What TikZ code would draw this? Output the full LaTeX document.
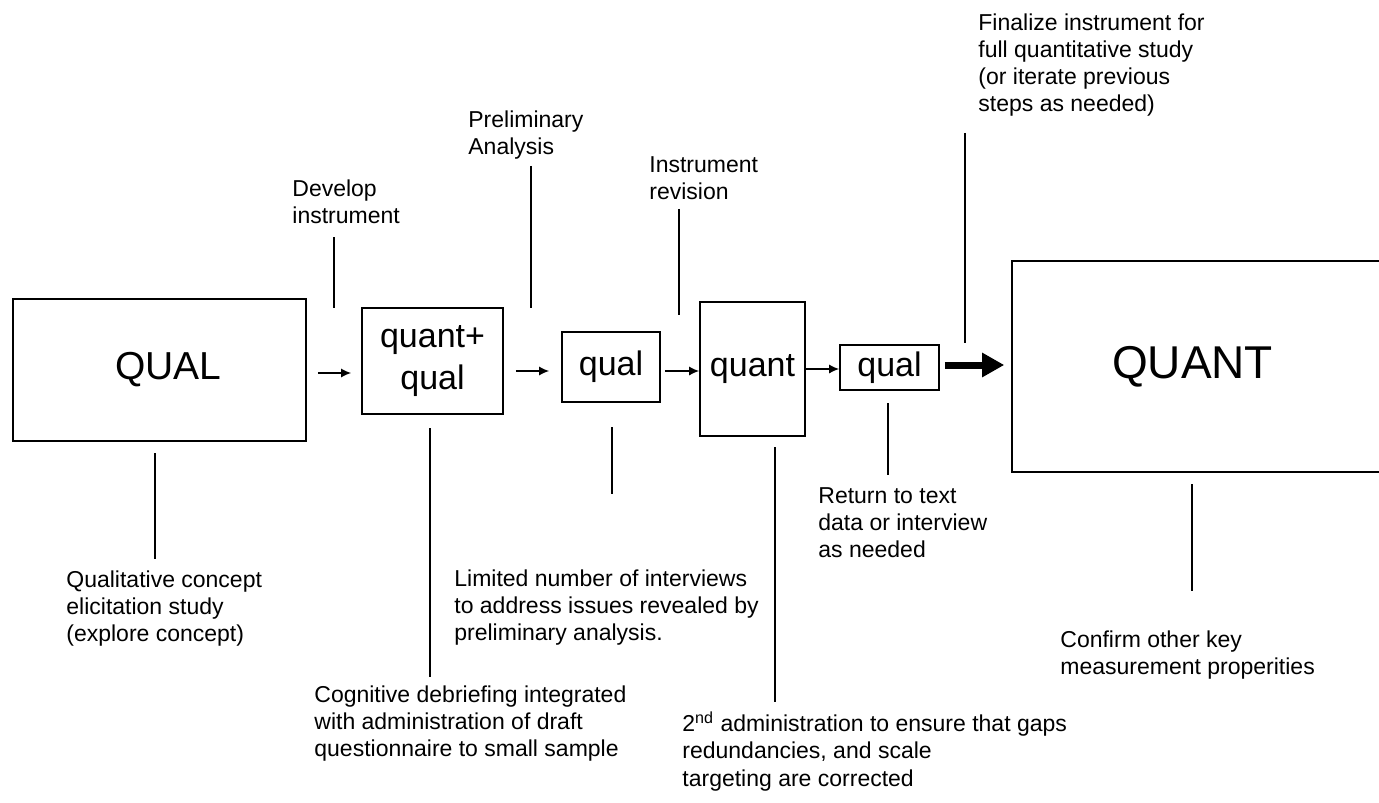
\documentclass[tikz,border=0pt]{standalone}
\usepackage{fontspec}
\setmainfont{Liberation Sans}
\usetikzlibrary{arrows.meta}
\begin{document}
\begin{tikzpicture}[x=0.5pt,y=-0.5pt,
  box/.style={draw, line width=0.8pt, inner sep=0pt, align=center},
  mid/.style={font=\fontsize{17}{21}\selectfont},
  note/.style={anchor=north west, inner sep=0pt, align=left, font=\fontsize{11.5}{13.6}\selectfont},
  callout/.style={line width=0.75pt},
  arr/.style={line width=0.75pt, -{Latex[length=5pt,width=4.5pt]}},
  bigarr/.style={line width=3.5pt, -{Triangle[length=11pt,width=11.5pt]}}]
\useasboundingbox (0,0) rectangle (1379,802);
\clip (0,0) rectangle (1379,802);
\fill[white] (0,0) rectangle (1379,802);

% boxes
\node[box, minimum width=146.5pt, minimum height=71pt, font=\fontsize{19.5}{23}\selectfont] (QL) at (159.5,370) {\hspace*{9pt}QUAL};
\node[box, mid, minimum width=70.5pt, minimum height=53pt] (QQ) at (432.5,361) {quant+\\qual};
\node[box, mid, minimum width=49pt, minimum height=35pt] (Q1) at (611,367) {qual};
\node[box, mid, minimum width=52.5pt, minimum height=67pt] (QN) at (752.5,369) {quant};
\node[box, mid, minimum width=49.5pt, minimum height=22.5pt] (Q2) at (889.5,367.5) {qual};
\node[box, minimum width=186.5pt, minimum height=105.5pt, font=\fontsize{23}{27}\selectfont] (QT) at (1198.5,366.5) {QUANT\hspace*{6pt}};

% arrows
\draw[arr, shorten <=5.5pt, shorten >=5pt] (QL.east |- 0,373) -- (QQ.west |- 0,373);
\draw[arr, shorten <=6pt, shorten >=6pt] (QQ.east |- 0,371) -- (Q1.west |- 0,371);
\draw[arr, shorten <=2pt] (Q1.east |- 0,371) -- (QN.west |- 0,371);
\draw[arr] (QN.east |- 0,369) -- (Q2.west |- 0,369);
\draw[bigarr, shorten <=2.5pt, shorten >=3.5pt] (Q2.east |- 0,365) -- (QT.west |- 0,365);

% notes above
\node[note] (nDev) at (292,179) {Develop\\instrument};
\node[note] (nPre) at (468,110) {Preliminary\\Analysis};
\node[note] (nRev) at (649,156) {Instrument\\revision};
\node[note] (nFin) at (978,13) {Finalize instrument for\\full quantitative study\\(or iterate previous\\steps as needed)};

% notes below
\node[note] (nQual) at (66,570) {Qualitative concept\\elicitation study\\(explore concept)};
\node[note] (nCog) at (314,685) {Cognitive debriefing integrated\\with administration of draft\\questionnaire to small sample};
\node[note] (nLim) at (454,569) {Limited number of interviews\\to address issues revealed by\\preliminary analysis.};
\node[note] (n2nd) at (682,711) {2\textsuperscript{nd} administration to ensure that gaps\\redundancies, and scale\\targeting are corrected};
\node[note] (nRet) at (818,487) {Return to text\\data or interview\\as needed};
\node[note] (nCon) at (1060,630) {Confirm other key\\measurement properities};

% callout lines
\coordinate (d1) at (334,237); \coordinate (d2) at (334,308);
\coordinate (p1) at (531,166); \coordinate (p2) at (531,308);
\coordinate (r1) at (679,209); \coordinate (r2) at (679,315);
\coordinate (f1) at (965,133); \coordinate (f2) at (965,343);
\coordinate (b1) at (155,453); \coordinate (b2) at (155,559);
\coordinate (c1) at (430,428); \coordinate (c2) at (430,677);
\coordinate (l1) at (612,427); \coordinate (l2) at (612,494);
\coordinate (s1) at (775,447); \coordinate (s2) at (775,702);
\coordinate (t1) at (888,403); \coordinate (t2) at (888,475);
\coordinate (k1) at (1192,484); \coordinate (k2) at (1192,591);
\foreach \a/\b in {d1/d2,p1/p2,r1/r2,f1/f2,b1/b2,c1/c2,l1/l2,s1/s2,t1/t2,k1/k2}
  \draw[callout] (\a) -- (\b);
\end{tikzpicture}
\end{document}
